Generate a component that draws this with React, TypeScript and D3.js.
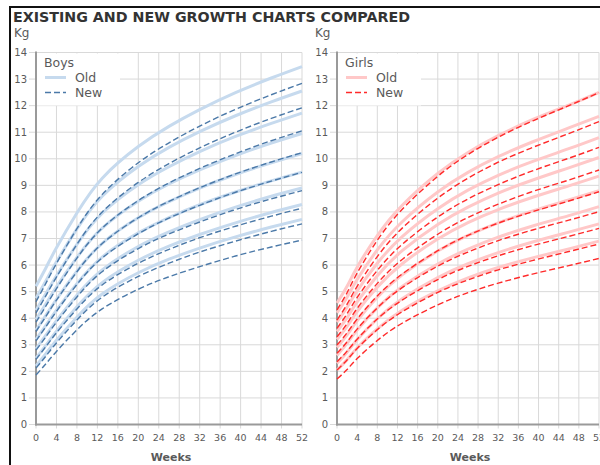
import React from "react";
import * as d3 from "d3";

const titleText = "EXISTING AND NEW GROWTH CHARTS COMPARED";
const weeks = [0, 2, 4, 8, 13, 20, 26, 32, 39, 46, 52];
const xTicks = [0, 4, 8, 12, 16, 20, 24, 28, 32, 36, 40, 44, 48, 52];
const yTicks = [0, 1, 2, 3, 4, 5, 6, 7, 8, 9, 10, 11, 12, 13, 14];
const legendLabels = ["Old", "New"];

// Boys – old charts (UK90), centiles 99.6 → 0.4
const boysOld = [
  [5.2, 5.92, 6.65, 7.96, 9.28, 10.46, 11.22, 11.85, 12.49, 13.04, 13.47],
  [4.75, 5.43, 6.12, 7.36, 8.6, 9.71, 10.43, 11.02, 11.62, 12.14, 12.55],
  [4.3, 4.95, 5.6, 6.78, 7.96, 9.02, 9.7, 10.27, 10.84, 11.33, 11.72],
  [3.95, 4.56, 5.18, 6.29, 7.4, 8.4, 9.05, 9.58, 10.12, 10.59, 10.95],
  [3.55, 4.13, 4.71, 5.77, 6.83, 7.78, 8.39, 8.9, 9.41, 9.85, 10.2],
  [3.2, 3.75, 4.3, 5.3, 6.31, 7.21, 7.79, 8.27, 8.75, 9.17, 9.5],
  [2.85, 3.38, 3.91, 4.87, 5.83, 6.7, 7.25, 7.71, 8.18, 8.59, 8.9],
  [2.5, 3.0, 3.51, 4.43, 5.35, 6.18, 6.71, 7.15, 7.59, 7.98, 8.28],
  [2.2, 2.68, 3.17, 4.04, 4.92, 5.71, 6.22, 6.64, 7.06, 7.43, 7.72],
];
// Boys – new charts (UK-WHO)
const boysNew = [
  [4.62, 5.34, 6.06, 7.37, 8.67, 9.85, 10.6, 11.23, 11.86, 12.41, 12.84],
  [4.2, 4.87, 5.55, 6.78, 8.01, 9.11, 9.82, 10.41, 11.0, 11.52, 11.92],
  [3.85, 4.48, 5.11, 6.26, 7.4, 8.43, 9.09, 9.64, 10.19, 10.68, 11.05],
  [3.5, 4.09, 4.68, 5.75, 6.82, 7.78, 8.4, 8.91, 9.43, 9.88, 10.23],
  [3.15, 3.7, 4.26, 5.27, 6.28, 7.18, 7.77, 8.25, 8.74, 9.16, 9.49],
  [2.8, 3.32, 3.85, 4.8, 5.76, 6.62, 7.17, 7.62, 8.09, 8.49, 8.8],
  [2.45, 2.95, 3.45, 4.35, 5.26, 6.07, 6.59, 7.03, 7.46, 7.84, 8.14],
  [2.12, 2.59, 3.07, 3.93, 4.8, 5.57, 6.07, 6.49, 6.9, 7.27, 7.55],
  [1.86, 2.3, 2.75, 3.56, 4.36, 5.09, 5.56, 5.94, 6.34, 6.68, 6.94],
];
// Girls – old charts
const girlsOld = [
  [4.57, 5.2, 5.92, 7.11, 8.26, 9.45, 10.24, 10.87, 11.49, 12.02, 12.5],
  [4.2, 4.79, 5.46, 6.57, 7.64, 8.75, 9.49, 10.08, 10.65, 11.16, 11.6],
  [3.85, 4.41, 5.03, 6.07, 7.08, 8.12, 8.82, 9.38, 9.91, 10.38, 10.8],
  [3.5, 4.02, 4.61, 5.6, 6.55, 7.53, 8.18, 8.71, 9.21, 9.66, 10.05],
  [3.2, 3.69, 4.25, 5.17, 6.06, 6.98, 7.6, 8.09, 8.56, 8.98, 9.35],
  [2.9, 3.37, 3.9, 4.79, 5.64, 6.53, 7.12, 7.59, 8.05, 8.45, 8.8],
  [2.6, 3.05, 3.55, 4.39, 5.2, 6.04, 6.6, 7.05, 7.48, 7.86, 8.2],
  [2.3, 2.72, 3.19, 3.98, 4.74, 5.53, 6.05, 6.47, 6.88, 7.24, 7.55],
  [2.05, 2.44, 2.88, 3.6, 4.31, 5.03, 5.52, 5.91, 6.28, 6.61, 6.9],
];
// Girls – new charts
const girlsNew = [
  [4.31, 4.96, 5.7, 6.93, 8.11, 9.34, 10.16, 10.81, 11.44, 12.0, 12.49],
  [3.93, 4.53, 5.2, 6.32, 7.4, 8.52, 9.27, 9.87, 10.44, 10.95, 11.4],
  [3.62, 4.17, 4.78, 5.8, 6.79, 7.81, 8.49, 9.03, 9.56, 10.02, 10.43],
  [3.3, 3.8, 4.37, 5.31, 6.22, 7.16, 7.79, 8.29, 8.78, 9.2, 9.58],
  [2.99, 3.45, 3.97, 4.84, 5.67, 6.54, 7.12, 7.58, 8.02, 8.41, 8.76],
  [2.68, 3.11, 3.59, 4.39, 5.16, 5.96, 6.49, 6.92, 7.33, 7.69, 8.01],
  [2.36, 2.76, 3.21, 3.97, 4.69, 5.45, 5.95, 6.35, 6.74, 7.08, 7.38],
  [2.05, 2.43, 2.86, 3.57, 4.25, 4.97, 5.44, 5.82, 6.18, 6.51, 6.79],
  [1.71, 2.07, 2.48, 3.16, 3.82, 4.5, 4.96, 5.32, 5.67, 5.98, 6.25],
];

const FONT = "'DejaVu Sans', Verdana, sans-serif";
const TXT = "#5a5a5a";

type PanelProps = {
  name: string;
  x0: number;
  x1: number;
  oldData: number[][];
  newData: number[][];
  oldColor: string;
  newColor: string;
};

const yScale = d3.scaleLinear().domain([0, 14]).range([424.5, 52.5]);

function Panel({ name, x0, x1, oldData, newData, oldColor, newColor }: PanelProps) {
  const x = d3.scaleLinear().domain([0, 52]).range([x0, x1]);
  const line = d3
    .line<number>()
    .x((_, i) => x(weeks[i]))
    .y((d) => yScale(d))
    .curve(d3.curveNatural);
  const lx = x0;
  return (
    <g>
      {xTicks.map((t) => (
        <line key={"vx" + t} x1={x(t)} x2={x(t)} y1={yScale(14)} y2={yScale(0) + 4} stroke="#d9d9d9" strokeWidth={1} />
      ))}
      {yTicks.map((t) => (
        <line key={"hy" + t} x1={x0 - 7} x2={x1} y1={yScale(t)} y2={yScale(t)} stroke="#d9d9d9" strokeWidth={1} />
      ))}
      <rect x={lx + 1} y={yScale(14) + 1} width={83} height={52} fill="#fff" />
      <line x1={x0} x2={x0} y1={yScale(14) - 1} y2={yScale(0) + 1} stroke="#9a9a9a" strokeWidth={2} />
      <line x1={x0 - 1} x2={x1} y1={yScale(0)} y2={yScale(0)} stroke="#9a9a9a" strokeWidth={2} />
      {yTicks.map((t) => (
        <text key={"yl" + t} x={x0 - 9} y={yScale(t) + 3.5} textAnchor="end" fontSize={10} fill={TXT} fontFamily={FONT}>
          {t}
        </text>
      ))}
      {xTicks.map((t) => (
        <text key={"xl" + t} x={x(t)} y={441} textAnchor="middle" fontSize={9.5} fill={TXT} fontFamily={FONT}>
          {t}
        </text>
      ))}
      <text x={(x0 + x1) / 2 + 2} y={461} textAnchor="middle" fontSize={11} fontWeight="bold" fill={TXT} fontFamily={FONT}>
        Weeks
      </text>
      <text x={x0 - 22} y={37} fontSize={12} fill={TXT} fontFamily={FONT}>
        Kg
      </text>
      {oldData.map((s, i) => (
        <path key={"o" + i} d={line(s) || ""} fill="none" stroke={oldColor} strokeWidth={3} />
      ))}
      {newData.map((s, i) => (
        <path key={"n" + i} d={line(s) || ""} fill="none" stroke={newColor} strokeWidth={1.4} strokeDasharray="6,3" />
      ))}
      <text x={lx + 8} y={67} fontSize={12.5} fill={TXT} fontFamily={FONT}>
        {name}
      </text>
      <line x1={lx + 9} x2={lx + 30} y1={77.5} y2={77.5} stroke={oldColor} strokeWidth={3} />
      <line x1={lx + 9} x2={lx + 30} y1={92.5} y2={92.5} stroke={newColor} strokeWidth={1.4} strokeDasharray="6,3" />
      <text x={lx + 39} y={82} fontSize={12.5} fill={TXT} fontFamily={FONT}>
        {legendLabels[0]}
      </text>
      <text x={lx + 39} y={97} fontSize={12.5} fill={TXT} fontFamily={FONT}>
        {legendLabels[1]}
      </text>
    </g>
  );
}

export default function App() {
  return (
    <div style={{ position: "absolute", left: 0, top: 0 }}>
      <svg width={600} height={465} style={{ display: "block", background: "#fff" }}>
        <rect x={0} y={0} width={600} height={465} fill="#fff" />
        <line x1={10} x2={10} y1={6} y2={465} stroke="#111" strokeWidth={2} />
        <line x1={9} x2={600} y1={7} y2={7} stroke="#111" strokeWidth={2} />
        <text x={13} y={22} fontSize={13.5} fontWeight="bold" fill="#333" fontFamily={FONT} textLength={397} lengthAdjust="spacingAndGlyphs">
          {titleText}
        </text>
        <Panel name="Boys" x0={36} x1={302} oldData={boysOld} newData={boysNew} oldColor="#c6daee" newColor="#4b79a8" />
        <Panel name="Girls" x0={337} x1={599} oldData={girlsOld} newData={girlsNew} oldColor="#ffc8c8" newColor="#ff2a2a" />
      </svg>
    </div>
  );
}
